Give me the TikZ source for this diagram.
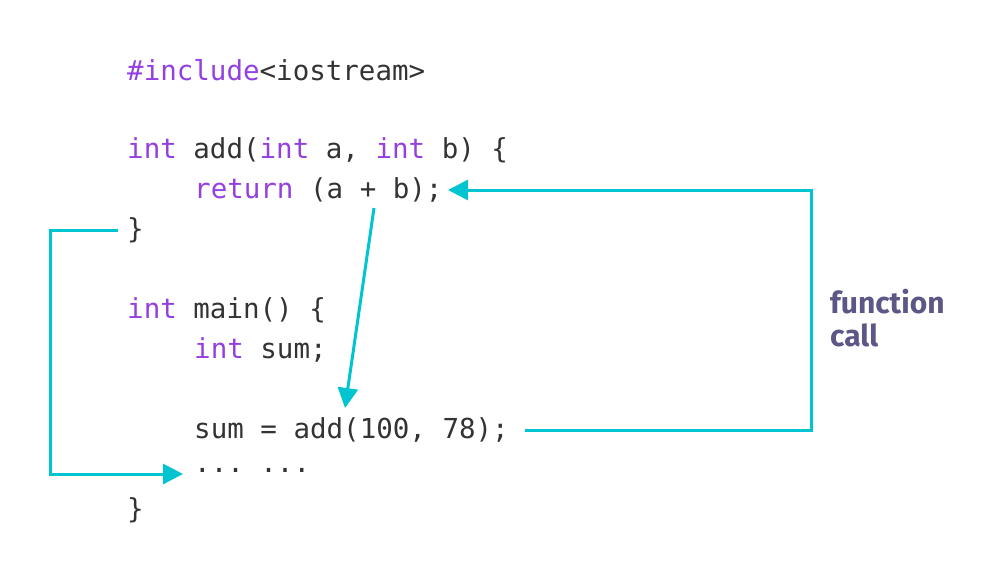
\documentclass[tikz,border=0pt]{standalone}
\usepackage{fontspec}
\setmonofont{DejaVu Sans Mono}
\newfontfamily\labelfont{Fira Sans}
\usetikzlibrary{arrows.meta}
\definecolor{kw}{HTML}{9440E0}
\definecolor{txt}{HTML}{333333}
\definecolor{arr}{HTML}{00C4CF}
\definecolor{lbl}{HTML}{5B5887}
\tikzset{
 code/.style={anchor=west,inner sep=0pt,text=txt,font=\ttfamily\fontsize{27.5}{30}\selectfont},
 flow/.style={draw=arr,line width=3pt,-{Triangle[length=20pt,width=20pt]}},
 lab/.style={anchor=west,inner sep=0pt,text=lbl,font=\labelfont\bfseries\fontsize{30}{36}\selectfont,align=left}
}
\begin{document}
\begin{tikzpicture}[x=1pt,y=-1pt]
\useasboundingbox (0,0) rectangle (1008,576);
\node[code] (l1) at (127,70) {\textcolor{kw}{\#include}<iostream>};
\node[code] (l2) at (127,150) {\textcolor{kw}{int} add(\textcolor{kw}{int} a, \textcolor{kw}{int} b) \{};
\node[code] (l3) at (194,190) {\textcolor{kw}{return} (a + b);};
\node[code] (l4) at (127,230) {\}};
\node[code] (l5) at (127,310) {\textcolor{kw}{int} main() \{};
\node[code] (l6) at (194,350) {\textcolor{kw}{int} sum;};
\node[code] (l7) at (194,430) {sum = add(100, 78);};
\node[code] (l8) at (194,470) {... ...};
\node[code] (l9) at (127,510) {\}};
\node[lab] (fc) at (830,318) {function\\[-3pt]call};
\coordinate (a1s) at (374,208);
\coordinate (a1e) at (345,408);
\coordinate (a2s) at (525,430);
\coordinate (a2c1) at (811,430);
\coordinate (a2c2) at (811,190);
\coordinate (a2e) at (448,190);
\coordinate (a3s) at (118,230);
\coordinate (a3c1) at (50,230);
\coordinate (a3c2) at (50,474);
\coordinate (a3e) at (183,474);
\draw[flow] (a1s) -- (a1e);
\draw[flow] (a2s) -- (a2c1) -- (a2c2) -- (a2e);
\draw[flow] (a3s) -- (a3c1) -- (a3c2) -- (a3e);
\end{tikzpicture}
\end{document}
